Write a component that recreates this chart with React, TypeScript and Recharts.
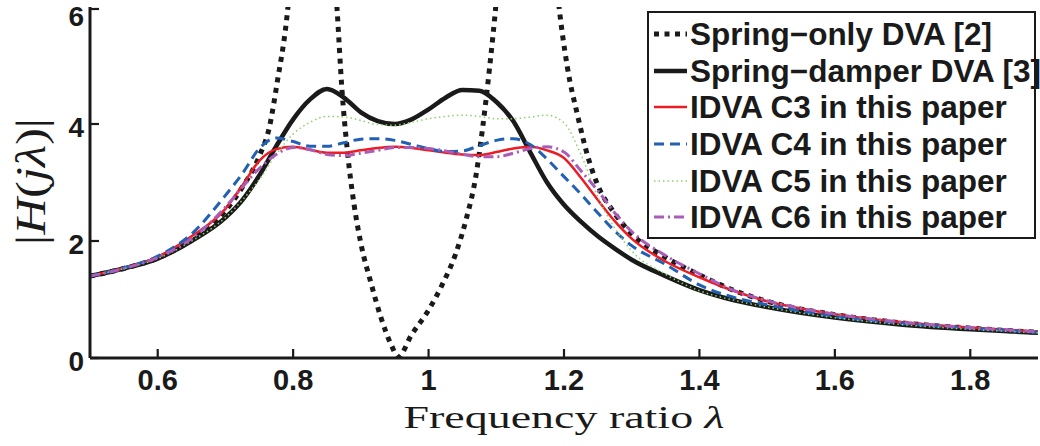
import { LineChart, Line, XAxis, YAxis, Legend } from "recharts"

// frequency ratio grid for the damped designs
const LAMBDA = [
  0.5, 0.55, 0.6, 0.65, 0.7, 0.725, 0.75, 0.775, 0.8, 0.825, 0.85, 0.875, 0.9,
  0.925, 0.95, 0.975, 1.0, 1.025, 1.05, 1.075, 1.1, 1.125, 1.15, 1.175, 1.2,
  1.225, 1.25, 1.275, 1.3, 1.35, 1.4, 1.45, 1.5, 1.6, 1.7, 1.8, 1.9,
]

const SPRING_DAMPER = [
  1.4, 1.53, 1.7, 2.0, 2.4, 2.7, 3.12, 3.62, 4.08, 4.42, 4.6, 4.45, 4.2,
  4.05, 4.0, 4.08, 4.25, 4.45, 4.58, 4.57, 4.38, 4.05, 3.52, 3.0, 2.62,
  2.33, 2.08, 1.87, 1.68, 1.4, 1.16, 0.99, 0.87, 0.69, 0.57, 0.49, 0.43,
]

const IDVA_C3 = [
  1.4, 1.54, 1.73, 2.08, 2.55, 2.95, 3.37, 3.57, 3.61, 3.56, 3.51, 3.51, 3.55,
  3.59, 3.61, 3.59, 3.55, 3.51, 3.48, 3.47, 3.52, 3.58, 3.61, 3.55, 3.42,
  3.08, 2.7, 2.34, 2.04, 1.65, 1.38, 1.15, 0.97, 0.75, 0.61, 0.52, 0.45,
]

const IDVA_C4 = [
  1.4, 1.54, 1.74, 2.12, 2.78, 3.15, 3.58, 3.76, 3.7, 3.62, 3.62, 3.68, 3.74,
  3.75, 3.72, 3.65, 3.58, 3.53, 3.54, 3.63, 3.72, 3.75, 3.65, 3.4, 3.1,
  2.8, 2.48, 2.17, 1.92, 1.6, 1.25, 1.04, 0.91, 0.71, 0.59, 0.51, 0.44,
]

const IDVA_C5 = [
  1.4, 1.53, 1.7, 2.0, 2.4, 2.7, 3.05, 3.48, 3.83, 4.03, 4.13, 4.12, 4.06,
  3.99, 3.98, 4.03, 4.09, 4.13, 4.15, 4.13, 4.09, 4.09, 4.12, 4.15, 4.02,
  3.48, 2.75, 2.22, 1.83, 1.43, 1.15, 0.99, 0.87, 0.69, 0.57, 0.49, 0.43,
]

const IDVA_C6 = [
  1.4, 1.53, 1.72, 2.04, 2.58, 2.92, 3.24, 3.48, 3.6, 3.56, 3.48, 3.46, 3.5,
  3.55, 3.6, 3.6, 3.58, 3.54, 3.48, 3.44, 3.44, 3.5, 3.58, 3.61, 3.52,
  3.2, 2.86, 2.48, 2.16, 1.75, 1.44, 1.16, 0.98, 0.75, 0.61, 0.52, 0.45,
]

// undamped absorber: denser around the two resonances and the anti-resonance
const SPRING_ONLY_LAMBDA = [
  0.5, 0.55, 0.6, 0.65, 0.7, 0.725, 0.75, 0.765, 0.777, 0.79, 0.8, 0.815, 0.83,
  0.845, 0.857, 0.865, 0.872, 0.88, 0.89, 0.9, 0.915, 0.93, 0.945, 0.955,
  0.975, 1.0, 1.02, 1.04, 1.055, 1.07, 1.08, 1.09, 1.1, 1.115, 1.15, 1.175,
  1.19, 1.205, 1.22, 1.235, 1.25, 1.275, 1.3, 1.35, 1.4, 1.45, 1.5, 1.6, 1.7,
  1.8, 1.9,
]

const SPRING_ONLY = [
  1.4, 1.53, 1.71, 2.02, 2.52, 2.92, 3.45, 3.95, 4.75, 5.75, 7.0, 10.5, 18,
  10.5, 7.3, 5.94, 4.6, 3.55, 2.62, 1.96, 1.28, 0.68, 0.22, 0.02,
  0.4, 0.82, 1.25, 1.78, 2.35, 3.12, 3.95, 4.95, 6.1, 8.2, 18, 8.5,
  6.3, 4.97, 4.15, 3.45, 2.95, 2.47, 2.12, 1.72, 1.42, 1.16, 0.97, 0.74, 0.6,
  0.51, 0.44,
]

const X_TICKS = [0.6, 0.8, 1, 1.2, 1.4, 1.6, 1.8]
const Y_TICKS = [0, 2, 4, 6]

const INK = "#1a1a1a"
const SANS = "'Liberation Sans', Arial, Helvetica, sans-serif"
const SERIF = "'Liberation Serif', 'Times New Roman', serif"
const TICK_LEN = 9

const SERIES = [
  { name: "Spring\u2212only DVA [2]", x: SPRING_ONLY_LAMBDA, y: SPRING_ONLY, color: INK, width: 5, dash: "5 5.5" },
  { name: "Spring\u2212damper DVA [3]", x: LAMBDA, y: SPRING_DAMPER, color: INK, width: 4.5, dash: undefined },
  { name: "IDVA C3 in this paper", x: LAMBDA, y: IDVA_C3, color: "#ec1c24", width: 2.5, dash: undefined },
  { name: "IDVA C4 in this paper", x: LAMBDA, y: IDVA_C4, color: "#2260b4", width: 3, dash: "10 6" },
  { name: "IDVA C5 in this paper", x: LAMBDA, y: IDVA_C5, color: "#8ed06a", width: 1.5, dash: "1.5 3" },
  { name: "IDVA C6 in this paper", x: LAMBDA, y: IDVA_C6, color: "#a95cb8", width: 3, dash: "10 4 2 4" },
]

// MATLAB style ticks: short marks pointing into the plot box
const BottomTick = (props: any) => {
  const { x, y, payload } = props
  return (
    <g>
      <line x1={x} y1={y} x2={x} y2={y - TICK_LEN} stroke={INK} strokeWidth={2.2} />
      <text x={x} y={y + 32} textAnchor="middle" fill={INK} fontSize={29} fontWeight={700} fontFamily={SANS}>
        {String(payload.value)}
      </text>
    </g>
  )
}

const LeftTick = (props: any) => {
  const { x, y, payload } = props
  // keep the top label inside the picture
  const base = Math.max(y + 12.5, 26)
  return (
    <g>
      <line x1={x} y1={y} x2={x + TICK_LEN} y2={y} stroke={INK} strokeWidth={2.2} />
      <text x={x - 6} y={base} textAnchor="end" fill={INK} fontSize={28} fontWeight={700} fontFamily={SANS}>
        {String(payload.value)}
      </text>
    </g>
  )
}

const TopTick = (props: any) => {
  const { x, y } = props
  return <line x1={x} y1={y} x2={x} y2={y + TICK_LEN} stroke={INK} strokeWidth={2.2} />
}

const RightTick = (props: any) => {
  const { x, y } = props
  return <line x1={x} y1={y} x2={x - TICK_LEN} y2={y} stroke={INK} strokeWidth={2.2} />
}

const renderXTitle = (props: any) => {
  const vb = props.viewBox
  return (
    <text
      x={vb.x + vb.width / 2}
      y={vb.y + 70}
      textAnchor="middle"
      fontFamily={SERIF}
      fontSize={32}
      fill={INK}
      textLength={321}
      lengthAdjust="spacingAndGlyphs"
    >
      Frequency ratio <tspan fontStyle="italic">λ</tspan>
    </text>
  )
}

const renderYTitle = (props: any) => {
  const vb = props.viewBox
  const cx = vb.x + 31
  const cy = vb.y + vb.height / 2 - 1
  return (
    <text
      transform={`translate(${cx},${cy}) rotate(-90)`}
      textAnchor="middle"
      dominantBaseline="central"
      fontFamily={SERIF}
      fontSize={42}
      fill={INK}
      textLength={127}
      lengthAdjust="spacingAndGlyphs"
    >
      |<tspan fontStyle="italic">H</tspan>(<tspan fontStyle="italic">jλ</tspan>)|
    </text>
  )
}

const renderLegend = () => (
  <div
    style={{
      boxSizing: "border-box",
      width: "100%",
      height: "100%",
      border: `2.5px solid ${INK}`,
      background: "#fff",
      padding: "3px 0 0 5px",
    }}
  >
    {SERIES.map((s) => (
      <div key={s.name} style={{ display: "flex", alignItems: "center", height: 36.6, whiteSpace: "nowrap" }}>
        <svg width={33} height={10} style={{ flex: "none", marginRight: 3 }}>
          <line x1={0} y1={5} x2={33} y2={5} stroke={s.color} strokeWidth={s.width} strokeDasharray={s.dash} />
        </svg>
        <span style={{ font: `700 31.5px ${SANS}`, color: INK, lineHeight: "36px" }}>{s.name}</span>
      </div>
    ))}
  </div>
)

export default function App() {
  const axisLine = { stroke: INK, strokeWidth: 3 }

  return (
    <div style={{ position: "absolute", left: 0, top: 0, width: 1040, height: 446, background: "#fff" }}>
      <LineChart width={1040} height={446} margin={{ top: 7, right: 2, bottom: 0, left: 0 }}>
        <XAxis
          type="number"
          dataKey="x"
          domain={[0.5, 1.9]}
          ticks={X_TICKS}
          allowDataOverflow
          height={88}
          axisLine={axisLine}
          tickLine={false}
          tickSize={0}
          tickMargin={0}
          tick={BottomTick}
          label={{ content: renderXTitle }}
        />
        <XAxis
          xAxisId="top"
          orientation="top"
          type="number"
          domain={[0.5, 1.9]}
          ticks={X_TICKS}
          allowDataOverflow
          height={0}
          axisLine={axisLine}
          tickLine={false}
          tickSize={0}
          tickMargin={0}
          tick={TopTick}
        />
        <YAxis
          type="number"
          domain={[0, 6]}
          ticks={Y_TICKS}
          allowDataOverflow
          width={90}
          axisLine={axisLine}
          tickLine={false}
          tickSize={0}
          tickMargin={0}
          tick={LeftTick}
          label={{ content: renderYTitle }}
        />
        <YAxis
          yAxisId="right"
          orientation="right"
          type="number"
          domain={[0, 6]}
          ticks={Y_TICKS}
          allowDataOverflow
          width={0}
          axisLine={axisLine}
          tickLine={false}
          tickSize={0}
          tickMargin={0}
          tick={RightTick}
        />
        {SERIES.map((s) => (
          <Line
            key={s.name}
            name={s.name}
            data={s.x.map((x, i) => ({ x, y: s.y[i] }))}
            dataKey="y"
            type="monotone"
            stroke={s.color}
            strokeWidth={s.width}
            strokeDasharray={s.dash}
            dot={false}
            activeDot={false}
            isAnimationActive={false}
          />
        ))}
        <Legend
          layout="vertical"
          align="center"
          verticalAlign="middle"
          content={renderLegend}
          wrapperStyle={{ left: 647, top: 11, width: 389, height: 228 }}
        />
      </LineChart>
    </div>
  )
}
